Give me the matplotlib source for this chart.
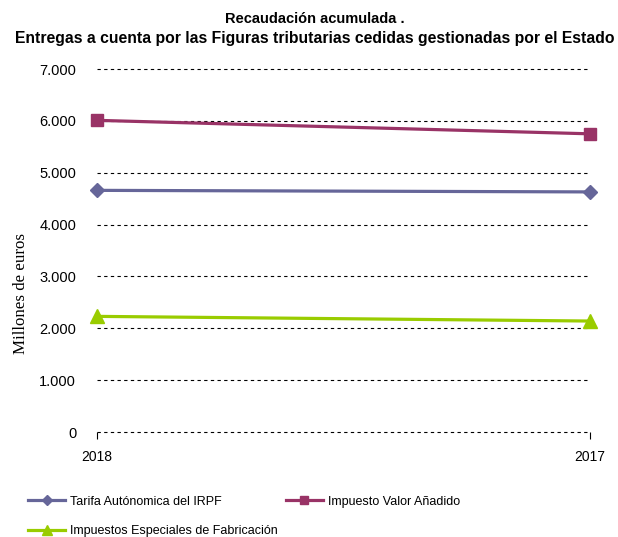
import matplotlib
matplotlib.use("Agg")
import matplotlib.pyplot as plt
from matplotlib.ticker import FuncFormatter

years = ["2018", "2017"]
irpf = [4660, 4630]
iva = [6010, 5750]
iiee = [2230, 2140]
labels = ["Tarifa Autónomica del IRPF", "Impuesto Valor Añadido",
          "Impuestos Especiales de Fabricación"]
yticks = [0, 1000, 2000, 3000, 4000, 5000, 6000, 7000]

plt.rcParams['font.family'] = ['Liberation Sans', 'DejaVu Sans']

fig = plt.figure(figsize=(6.18, 5.37), dpi=100)
ax = fig.add_axes([0.157, 0.1955, 0.798, 0.676])

x = list(range(len(years)))
l1, = ax.plot(x, irpf, color="#666699", lw=2.3, marker="D", ms=7, label=labels[0], zorder=3, clip_on=False)
l2, = ax.plot(x, iva, color="#993366", lw=2.3, marker="s", ms=9, label=labels[1], zorder=3, clip_on=False)
l3, = ax.plot(x, iiee, color="#99CC00", lw=2.3, marker="^", ms=10, label=labels[2], zorder=3, clip_on=False)

ax.set_xlim(0, 1)
ax.set_ylim(0, 7000)
ax.set_yticks(yticks)
ax.yaxis.set_major_formatter(FuncFormatter(lambda v, p: f"{int(v):,}".replace(",", ".")))
ax.set_xticks(x)
ax.set_xticklabels(years)
for s in ax.spines.values():
    s.set_visible(False)
for yv in yticks:
    ax.axhline(yv, color="black", lw=0.8, ls=(0, (3, 3)), zorder=1, clip_on=False)
ax.tick_params(axis="y", length=0, pad=15, labelsize=10.5)
ax.tick_params(axis="x", length=5, width=0.8, direction="out", pad=8, labelsize=10)

fig.text(0.51, 0.965, "Recaudación acumulada .", ha="center", va="center",
         fontsize=10.5, fontweight="bold")
fig.text(0.51, 0.928, "Entregas a cuenta por las Figuras tributarias cedidas gestionadas por el Estado",
         ha="center", va="center", fontsize=11.3, fontweight="bold")
fig.text(0.034, 0.454, "Millones de euros", rotation=90, ha="center", va="center",
         fontsize=12.2, family=["Liberation Serif", "DejaVu Serif"])

fig.legend(handles=[l1, l3, l2], loc="upper left", bbox_to_anchor=(0.045, 0.077), ncol=2,
           frameon=False, fontsize=9, handlelength=3.0, columnspacing=0.6,
           labelspacing=1.4, handletextpad=0.4, markerscale=0.7,
           borderpad=0, borderaxespad=0)

fig.savefig("out.png", dpi=100)
